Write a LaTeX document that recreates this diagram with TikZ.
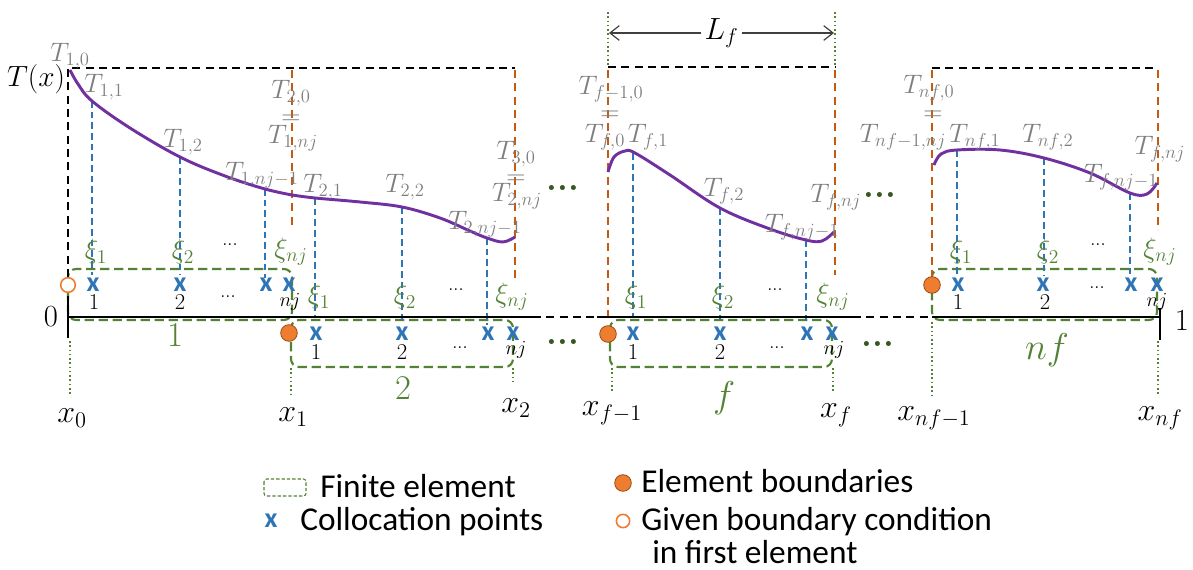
\RequirePackage{fix-cm}
\documentclass[tikz,border=0pt]{standalone}
\usepackage{fontspec}
\setsansfont{Carlito}
\usetikzlibrary{arrows.meta}
\definecolor{cpurple}{HTML}{7030A0}
\definecolor{cblue}{HTML}{2E75B6}
\definecolor{corange}{HTML}{C55A11}
\definecolor{cfill}{HTML}{ED7D31}
\definecolor{cgreen}{HTML}{548235}
\definecolor{cdkgreen}{HTML}{385723}
\definecolor{cgray}{HTML}{7F7F7F}
\newcommand\fsz[1]{\fontsize{#1}{#1}\selectfont}
\tikzset{
 curve/.style={cpurple, line width=2.2pt},
 bdash/.style={cblue, line width=1.1pt, dash pattern=on 5pt off 3pt},
 odash/.style={corange, line width=1.2pt, dash pattern=on 6pt off 4pt},
 kdash/.style={black, line width=1.2pt, dash pattern=on 6pt off 4pt},
 elem/.style={cgreen, line width=1.6pt, dash pattern=on 7pt off 3.5pt, rounded corners=6pt},
 gdot/.style={cgreen, line width=1.2pt, dotted},
 axisline/.style={black, line width=1.9pt},
 tlab/.style={text=cgray, font=\fsz{20}, inner sep=0pt, anchor=base},
 xilab/.style={text=cgreen, font=\fsz{21}, inner sep=0pt},
 cpt/.style={text=cblue, font=\sffamily\bfseries\fsz{21}, inner sep=0pt},
 num/.style={font=\fsz{17}, inner sep=0pt},
 njlab/.style={font=\fsz{15}, inner sep=0pt},
 sdots/.style={font=\fsz{14}, inner sep=0pt},
 gdots/.style={text=cdkgreen, font=\bfseries\fsz{26}, inner sep=0pt},
 elnum/.style={text=cgreen, font=\fsz{26}, inner sep=0pt},
 xlab/.style={font=\fsz{24}, inner sep=0pt},
 bnd/.style={circle, fill=cfill, draw=corange!80!black, line width=0.6pt, minimum size=12.5pt, inner sep=0pt},
 gbc/.style={circle, fill=white, draw=cfill, line width=1.2pt, minimum size=11pt, inner sep=0pt},
 leg/.style={font=\sffamily\fsz{25}, inner sep=0pt, anchor=base west},
}
\begin{document}
\begin{tikzpicture}[x=0.75pt,y=-0.75pt]
\useasboundingbox (0,0) rectangle (1193,570);

% ---------- element boxes ----------
\draw[elem] (68,269) rectangle (292,320);
\draw[elem] (291,320) rectangle (513,367);
\draw[elem] (610,320) rectangle (832,367);
\draw[elem] (932,269) rectangle (1157,320);

% ---------- black dashed frames ----------
\draw[kdash] (68,277) -- (68,68) -- (515,68);
\draw[kdash] (608,67) -- (835,67);
\draw[kdash] (932,68) -- (1158,68);

% ---------- orange dashed ----------
\draw[odash] (292,70) -- (292,228);
\draw[odash] (515,70) -- (515,278);
\draw[odash] (608,70) -- (608,322);
\draw[odash] (835,70) -- (835,275);
\draw[odash] (932,70) -- (932,278);
\draw[odash] (1158,70) -- (1158,230);

% ---------- blue dashed ----------
\draw[bdash] (92,101) -- (92,275);
\draw[bdash] (180,157) -- (180,275);
\draw[bdash] (265,189) -- (265,278);
\draw[bdash] (315,198) -- (315,318);
\draw[bdash] (402,207) -- (402,320);
\draw[bdash] (487,238) -- (487,325);
\draw[bdash] (633,153) -- (633,318);
\draw[bdash] (720,208) -- (720,320);
\draw[bdash] (806,240) -- (806,325);
\draw[bdash] (957,150) -- (957,276);
\draw[bdash] (1044,158) -- (1044,276);
\draw[bdash] (1130,193) -- (1130,278);

% ---------- curves ----------
\draw[curve] plot[smooth, tension=0.6] coordinates {(70,70) (78,84) (92,101) (130,128) (180,157) (225,176) (265,189) (292,195)};
\draw[curve] plot[smooth, tension=0.6] coordinates {(292,195) (315,198) (360,202) (402,207) (440,218) (470,231) (487,238) (503,242) (515,237)};
\draw[curve] plot[smooth, tension=0.6] coordinates {(608,172) (614,157) (625,151) (635,153) (670,175) (720,208) (770,229) (806,240) (822,241) (834,232)};
\draw[curve] plot[smooth, tension=0.6] coordinates {(934,165) (941,154) (957,150) (1000,150) (1044,158) (1090,173) (1130,193) (1147,194) (1157,183)};

% ---------- axis ----------
\draw[axisline] (68,317) -- (533,317);
\draw[axisline, dash pattern=on 6pt off 4pt] (533,317) -- (597,317);
\draw[axisline] (597,317) -- (853,317);
\draw[axisline, dash pattern=on 6pt off 4pt] (853,317) -- (932,317);
\draw[axisline] (932,317) -- (1160,317);
\draw[axisline] (68,296) -- (68,338);
\draw[axisline] (1160,308) -- (1160,340);
\node[font=\fsz{23}, inner sep=0pt] (zero) at (51,317) {0};
\node[font=\fsz{23}, inner sep=0pt] (one) at (1182,320) {1};

% ---------- green dotted ----------
\draw[gdot] (70,341) -- (70,395);
\draw[gdot] (291,368) -- (291,395);
\draw[gdot] (513,368) -- (513,385);
\draw[gdot] (612,368) -- (612,393);
\draw[gdot] (833,368) -- (833,392);
\draw[gdot] (932,322) -- (932,395);
\draw[gdot] (1158,341) -- (1158,395);
\draw[gdot] (608,12) -- (608,66);
\draw[gdot] (835,12) -- (835,66);

% ---------- L_f ----------
\coordinate (la) at (609,33);
\coordinate (lb) at (834,33);
\draw[black!75, line width=0.9pt, {Straight Barb[length=7pt,width=11pt]}-{Straight Barb[length=7pt,width=11pt]}] (la) -- (lb) node[midway, fill=white, inner sep=3pt, font=\fsz{23}, text=black] (Lf) {$L_f$};

% ---------- boundary circles ----------
\node[gbc] (b0) at (68,285) {};
\node[bnd] (b1) at (289,333) {};
\node[bnd] (bf) at (608,334) {};
\node[bnd] (bnf) at (932,285) {};

% ---------- T labels (baseline positions) ----------
\node[tlab] (t10) at (70,62) {$T_{1,0}$};
\node[font=\fsz{22}, inner sep=0pt, anchor=base] (Tx) at (36,87) {$T(x)$};
\node[tlab] (t11) at (104,93) {$T_{1,1}$};
\node[tlab] (t12) at (183,148) {$T_{1,2}$};
\node[tlab] (t1nm) at (262,181) {$T_{1,nj-1}$};
\node[tlab] (t20) at (291,99) {$T_{2,0}$};
\node[tlab] (eq2) at (291,125) {$=$};
\node[tlab] (t1n) at (293,144) {$T_{1,nj}$};
\node[tlab] (t21) at (323,193) {$T_{2,1}$};
\node[tlab] (t22) at (405,193) {$T_{2,2}$};
\node[tlab] (t2nm) at (485,230) {$T_{2,nj-1}$};
\node[tlab] (t30) at (516,160) {$T_{3,0}$};
\node[tlab] (eq3) at (516,185) {$=$};
\node[tlab] (t2n) at (517,202) {$T_{2,nj}$};
\node[tlab] (tfm0) at (611,95) {$T_{f-1,0}$};
\node[tlab] (eqf) at (610,121) {$=$};
\node[tlab] (tf0) at (605,143) {$T_{f,0}$};
\node[tlab] (tf1) at (648,143) {$T_{f,1}$};
\node[tlab] (tf2) at (724,197) {$T_{f,2}$};
\node[tlab] (tfnm) at (802,233) {$T_{f,nj-1}$};
\node[tlab] (tfn) at (836,203) {$T_{f,nj}$};
\node[tlab] (tnf0) at (929,94) {$T_{nf,0}$};
\node[tlab] (eqnf) at (933,121) {$=$};
\node[tlab] (tnfm) at (903,143) {$T_{nf-1,nj}$};
\node[tlab] (tnf1) at (975,143) {$T_{nf,1}$};
\node[tlab] (tnf2) at (1048,143) {$T_{nf,2}$};
\node[tlab] (tnfnm) at (1121,183) {$T_{f,nj-1}$};
\node[tlab] (tnfn) at (1160,155) {$T_{f,nj}$};

% ---------- xi labels ----------
\node[xilab] (xa1) at (96,252) {$\xi_1$};
\node[xilab] (xa2) at (183,252) {$\xi_2$};
\node[sdots] (xad) at (230,245) {...};
\node[xilab] (xan) at (291,252) {$\xi_{nj}$};
\node[xilab] (xb1) at (319,297) {$\xi_1$};
\node[xilab] (xb2) at (405,297) {$\xi_2$};
\node[sdots] (xbd) at (456,290) {...};
\node[xilab] (xbn) at (512,297) {$\xi_{nj}$};
\node[xilab] (xc1) at (636,297) {$\xi_1$};
\node[xilab] (xc2) at (723,297) {$\xi_2$};
\node[sdots] (xcd) at (775,290) {...};
\node[xilab] (xcn) at (833,297) {$\xi_{nj}$};
\node[xilab] (xd1) at (961,252) {$\xi_1$};
\node[xilab] (xd2) at (1048,252) {$\xi_2$};
\node[sdots] (xdd) at (1098,245) {...};
\node[xilab] (xdn) at (1160,252) {$\xi_{nj}$};

% ---------- collocation points ----------
\foreach \px/\nm in {93/a1,180/a2,266/a3,289/a4} \node[cpt] (c\nm) at (\px,285) {x};
\foreach \px/\nm in {316/b1,402/b2,488/b3,513/b4} \node[cpt] (c\nm) at (\px,334) {x};
\foreach \px/\nm in {633/c1,720/c2,807/c3,832/c4} \node[cpt] (c\nm) at (\px,334) {x};
\foreach \px/\nm in {958/d1,1043/d2,1131/d3,1157/d4} \node[cpt] (c\nm) at (\px,285) {x};

% ---------- point numbers ----------
\node[num] (na1) at (94,302) {1};
\node[num] (na2) at (180,302) {2};
\node[sdots] (nad) at (228,297) {...};
\node[njlab] (nan) at (290,302) {$nj$};
\node[num] (nb1) at (316,352) {1};
\node[num] (nb2) at (402,352) {2};
\node[sdots] (nbd) at (460,348) {...};
\node[njlab] (nbn) at (516,350) {$nj$};
\node[num] (nc1) at (633,352) {1};
\node[num] (nc2) at (720,352) {2};
\node[sdots] (ncd) at (777,348) {...};
\node[njlab] (ncn) at (834,350) {$nj$};
\node[num] (nd1) at (958,302) {1};
\node[num] (nd2) at (1045,302) {2};
\node[sdots] (ndd) at (1097,288) {...};
\node[njlab] (ndn) at (1157,302) {$nj$};

% ---------- element numbers ----------
\node[elnum] (e1) at (175,335) {1};
\node[elnum] (e2) at (403,388) {2};
\node[elnum, font=\fsz{28}] (ef) at (724,398) {$f$};
\node[elnum, font=\fsz{28}] (enf) at (1047,350) {$nf$};

% ---------- green ellipses ----------
\node[gdots] (g1) at (563,188) {...};
\node[gdots] (g2) at (563,342) {...};
\node[gdots] (g3) at (880,195) {...};
\node[gdots] (g4) at (878,344) {...};

% ---------- x labels ----------
\node[xlab] (x0) at (72,418) {$x_0$};
\node[xlab] (x1) at (293,417) {$x_1$};
\node[xlab] (x2) at (516,408) {$x_2$};
\node[xlab] (xfm) at (612,413) {$x_{f-1}$};
\node[xlab] (xf) at (836,415) {$x_f$};
\node[xlab] (xnfm) at (934,418) {$x_{nf-1}$};
\node[xlab] (xnf) at (1160,418) {$x_{nf}$};

% ---------- legend ----------
\draw[cgreen, line width=0.8pt, dash pattern=on 2.5pt off 1.5pt, rounded corners=2pt] (264,479) rectangle (306,496);
\node[leg] (lfe) at (320,497) {Finite element};
\node[cpt] (lx) at (271,521) {x};
\node[leg] (lcp) at (300,530) {Collocation points};
\node[bnd] (lb1) at (623,483) {};
\node[leg] (leb) at (641,492) {Element boundaries};
\node[gbc, minimum size=10pt] (lb2) at (623,521) {};
\node[leg] (lgb) at (641,530) {Given boundary condition};
\node[leg] (lin) at (652,563) {in first element};
\end{tikzpicture}
\end{document}
